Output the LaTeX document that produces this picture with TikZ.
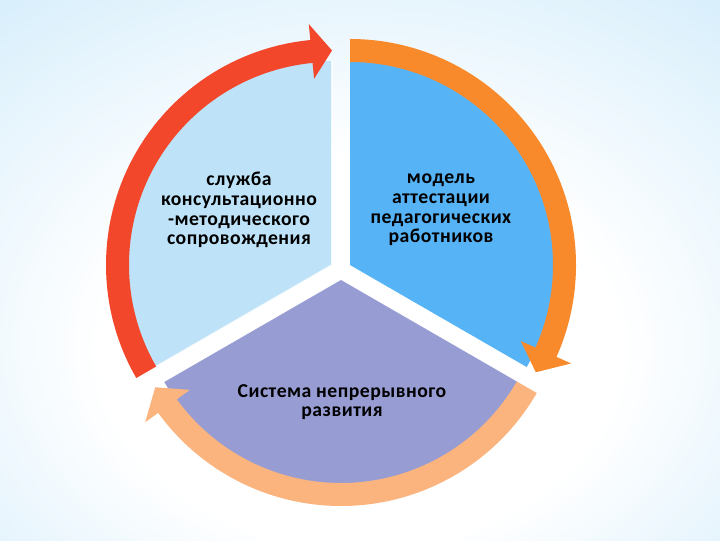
\documentclass[tikz,border=0pt]{standalone}
\usepackage{fontspec}
\setmainfont{Carlito}

\definecolor{bgedge}{HTML}{92CDF1}
\definecolor{bgmid}{HTML}{D2ECFB}
\definecolor{sectorlight}{HTML}{BEE3F8}
\definecolor{sectorblue}{HTML}{55B3F6}
\definecolor{sectorviolet}{HTML}{979DD3}
\definecolor{bandred}{HTML}{F2472B}
\definecolor{bandorange}{HTML}{F98A2B}
\definecolor{bandpeach}{HTML}{FBB47E}

\pgfdeclareradialshading{bgglow}{\pgfpoint{0bp}{-10bp}}{color(0bp)=(white); color(18bp)=(white); color(42bp)=(bgmid); color(72bp)=(bgedge)}

\begin{document}
\begin{tikzpicture}[
        x=0.025cm, y=0.025cm,
        sector_left/.style={fill=sectorlight},
        sector_right/.style={fill=sectorblue},
        sector_bottom/.style={fill=sectorviolet},
        band_red/.style={fill=bandred},
        band_orange/.style={fill=bandorange},
        band_peach/.style={fill=bandpeach},
        edge_glow/.style={draw=white, line width=1.2pt, opacity=0.8},
        label_text/.style={align=center, text=black, font=\bfseries\fontsize{14}{14}\selectfont\addfontfeature{LetterSpace=2.5}}
    ]

        % Background
        \useasboundingbox (0,0) rectangle (720,540);
        \shade[shading=bgglow] (0,0) rectangle (720,540);

        % Bottom sector with peach arrow
        \begin{scope}[shift={(341,260)}]
            \fill[sector_bottom] (0,0) -- (210:204) arc[start angle=210, end angle=330, radius=204] -- cycle;
            \fill[band_peach] (-30:203) arc[start angle=-30, end angle=-144, radius=203] -- (-144:187) -- (-150:214.5) -- (-144:242) -- (-144:226) arc[start angle=-144, end angle=-30, radius=226] -- cycle;
        \end{scope}

        % Left sector with red arrow
        \begin{scope}[shift={(332,275)}]
            \fill[sector_left] (0,0) -- (90:204) arc[start angle=90, end angle=210, radius=204] -- cycle;
            \draw[edge_glow] (90:204) -- (0,0) -- (210:204);
            \fill[band_red] (210:203) arc[start angle=210, end angle=95.5, radius=203] -- (95.5:187) -- (90:214.5) -- (95.5:242) -- (95.5:226) arc[start angle=95.5, end angle=210, radius=226] -- cycle;
        \end{scope}

        % Right sector with orange arrow
        \begin{scope}[shift={(350,275)}]
            \fill[sector_right] (0,0) -- (-30:204) arc[start angle=-30, end angle=90, radius=204] -- cycle;
            \fill[band_orange] (90:203) arc[start angle=90, end angle=-24, radius=203] -- (-24:187) -- (-30:214.5) -- (-24:242) -- (-24:226) arc[start angle=-24, end angle=90, radius=226] -- cycle;
        \end{scope}

        % Labels
        \node[label_text] (support) at (239,330) {служба\\консультационно\\-методического\\сопровождения};
        \node[label_text] (attestation) at (441,330) {модель\\аттестации\\педагогических\\работников};
        \node[label_text] (system) at (342,138) {Система непрерывного\\развития};

    \end{tikzpicture}
\end{document}
